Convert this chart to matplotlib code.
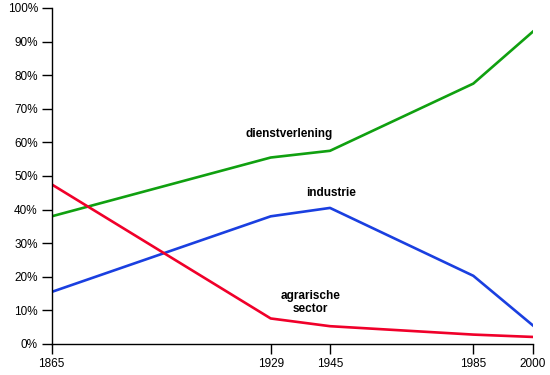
import numpy as np
import matplotlib
matplotlib.use("Agg")
import matplotlib.pyplot as plt

plt.rcParams['font.family'] = ['Liberation Sans', 'DejaVu Sans']

years = [1865, 1929, 1945, 1985, 2000]
dienstverlening = [38, 55.5, 57.5, 77.5, 93]
industrie = [15.5, 38, 40.5, 20.3, 5.5]
agrarisch = [47.5, 7.6, 5.3, 2.8, 2.1]
ytick_vals = list(range(0, 101, 10))
ytick_labels = [f"{v}%" for v in ytick_vals]

# The original axis spacing is not strictly linear; map via piecewise scale
axis_pos = [0.0, 219.0, 278.3, 421.6, 481.3]

def fwd(x):
    return np.interp(x, years, axis_pos)

def inv(p):
    return np.interp(p, axis_pos, years)

fig = plt.figure(figsize=(5.5, 3.75), dpi=100)
ax = fig.add_axes([51.7/550, 1 - 344/375, (533 - 51.7)/550, (344 - 8)/375])
ax.set_xscale('function', functions=(fwd, inv))

ax.plot(years, dienstverlening, color='#10a010', lw=1.9)
ax.plot(years, industrie, color='#1a3fe0', lw=1.9)
ax.plot(years, agrarisch, color='#f0002a', lw=1.9)

ax.set_xlim(1865, 2000)
ax.set_ylim(0, 100)
ax.set_xticks(years)
ax.set_xticklabels([str(y) for y in years])
ax.set_yticks(ytick_vals)
ax.set_yticklabels(ytick_labels)
ax.minorticks_off()

for s in ['top', 'right']:
    ax.spines[s].set_visible(False)
for s in ['left', 'bottom']:
    ax.spines[s].set_linewidth(1.0)
ax.tick_params(axis='both', direction='out', length=7, width=1.0, labelsize=8.5, pad=3)

ax.text(1934, 62.5, 'dienstverlening', fontsize=8.5, fontweight='bold', ha='center', va='center')
ax.text(1945.3, 44.9, 'industrie', fontsize=8.5, fontweight='bold', ha='center', va='center')
ax.text(1939.7, 12.4, 'agrarische\nsector', fontsize=8.5, fontweight='bold', ha='center', va='center',
        linespacing=1.15)

fig.savefig('out.png', dpi=100)
